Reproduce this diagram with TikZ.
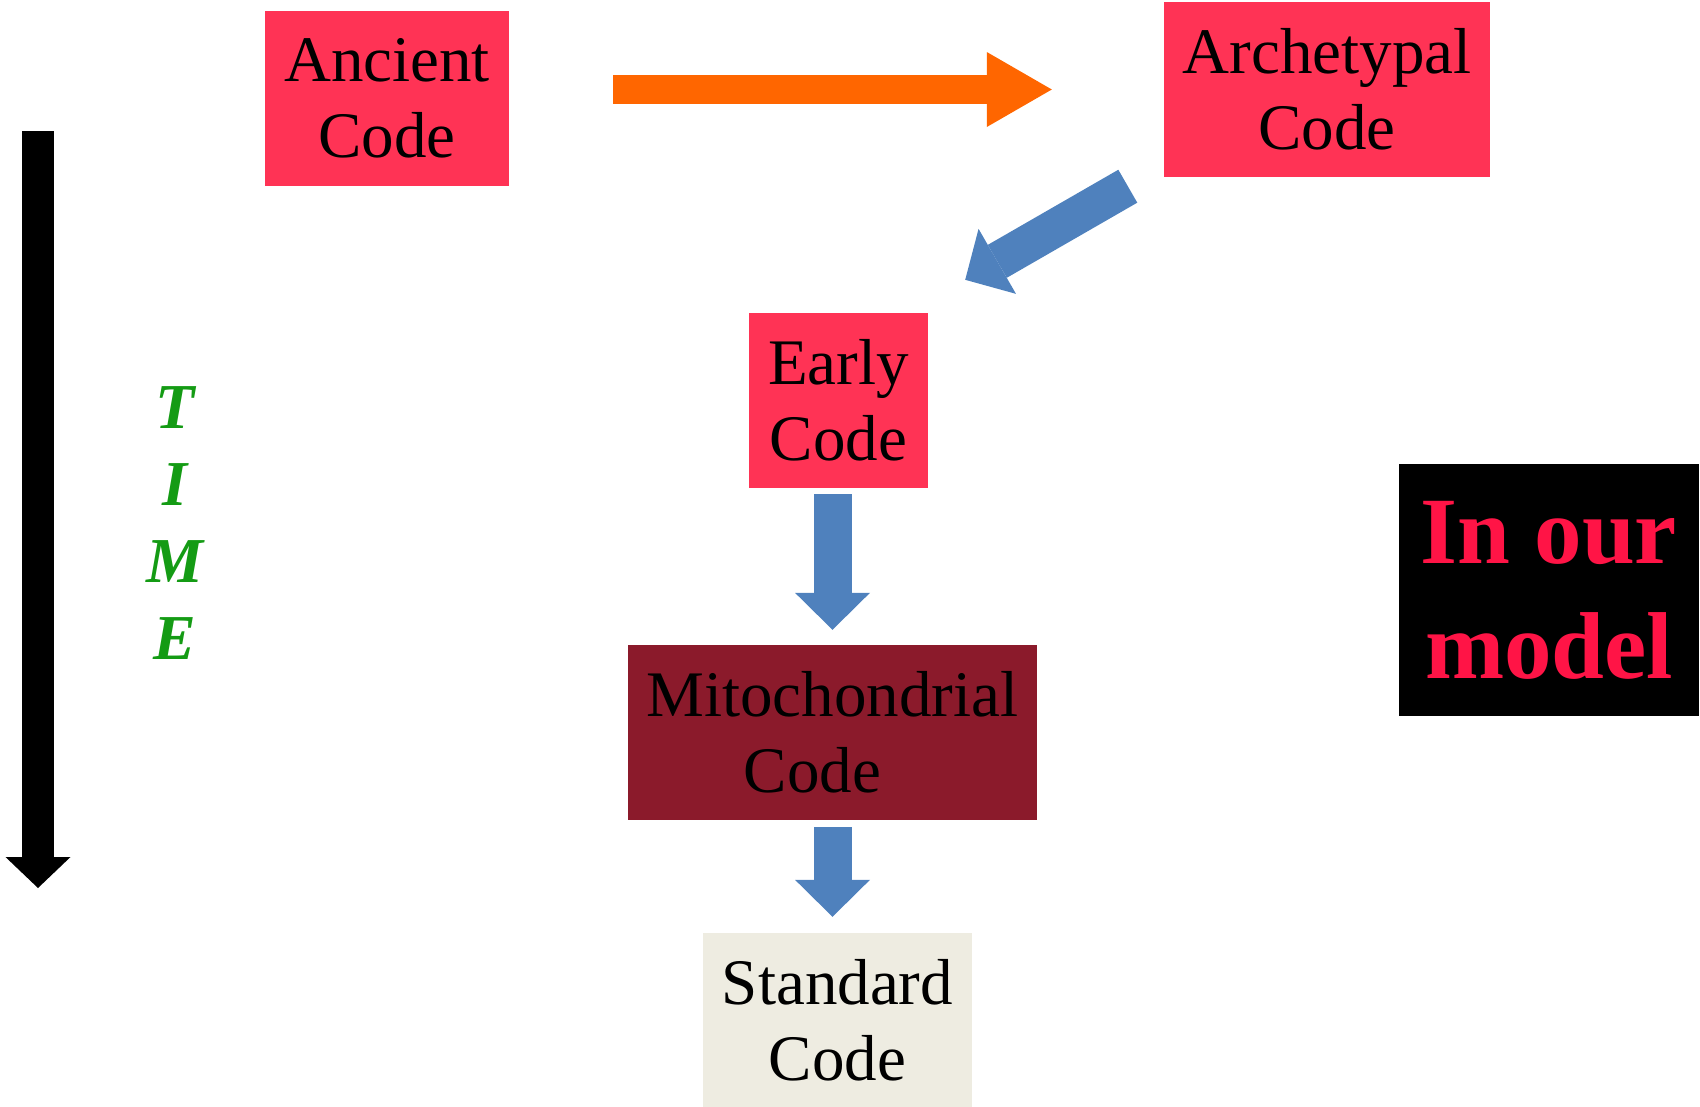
\documentclass[tikz,border=0pt]{standalone}
\usepackage{fontspec}
\setmainfont{Liberation Serif}
\usetikzlibrary{arrows.meta}

\definecolor{codered}{RGB}{255,51,85}
\definecolor{mitored}{RGB}{139,26,43}
\definecolor{stdbeige}{RGB}{238,236,225}
\definecolor{flowblue}{RGB}{79,129,189}
\definecolor{floworange}{RGB}{255,102,0}
\definecolor{modelred}{RGB}{255,20,70}
\definecolor{timegreen}{RGB}{20,155,20}

\begin{document}
\begin{tikzpicture}[x=1pt,y=-1pt,
    codebox/.style={fill=#1,inner sep=0pt,minimum height=175pt,align=center,
      font=\fontsize{65}{76}\selectfont},
    blockarrow/.style={draw=#1,line width=38pt,
      -{Triangle[length=37pt,width=75pt,line width=0pt]}}]
    \useasboundingbox (0,0) rectangle (1700,1106);

    % ===== code boxes =====
    \node[codebox=codered,minimum width=244pt] (ancient) at (387,98.5) {Ancient\\Code};
    \node[codebox=codered,minimum width=326pt] (arche) at (1327,89.5) {Archetypal\\Code};
    \node[codebox=codered,minimum width=179pt] (early) at (838.5,400.5) {Early\\Code};
    \node[codebox=mitored,minimum width=409pt] (mito) at (832.5,732.5) {Mitochondrial\\Code\hspace*{40pt}};
    \node[codebox=stdbeige,minimum width=269pt] (std) at (837.5,1020.5) {Standard\\Code};

    % ===== label box =====
    \node[fill=black,inner sep=0pt,minimum width=300pt,minimum height=252pt,
      align=center,text=modelred,font=\fontsize{95}{115}\selectfont\bfseries]
      (model) at (1549,590) {In our\\model};

    % ===== time axis =====
    \coordinate (t0) at (38,131);
    \coordinate (t1) at (38,888);
    \draw[line width=32pt,-{Triangle[length=31pt,width=65pt,line width=0pt]}] (t0) -- (t1);
    \node[inner sep=0pt,align=center,text=timegreen,
      font=\fontsize{64}{77}\selectfont\bfseries\itshape] (time) at (175,523.5) {T\\I\\M\\E};

    % ===== arrows =====
    \draw[blockarrow=floworange,line width=29pt,
      -{Triangle[length=65pt,width=75pt,line width=0pt]},
      shorten <=104pt,shorten >=112pt] (ancient.east |- arche.west) -- (arche.west);

    \coordinate (d0) at ([shift={(-36,9)}]arche.south west);
    \coordinate (d1) at ([shift={(37,-33)}]early.north east);
    \draw[blockarrow=flowblue] (d0) -- (d1);

    \draw[blockarrow=flowblue,shorten <=6pt,shorten >=15pt]
      (early.south -| mito.north) -- (mito.north);
    \draw[blockarrow=flowblue,shorten <=7pt,shorten >=16pt]
      (mito.south) -- (mito.south |- std.north);

\end{tikzpicture}
\end{document}
